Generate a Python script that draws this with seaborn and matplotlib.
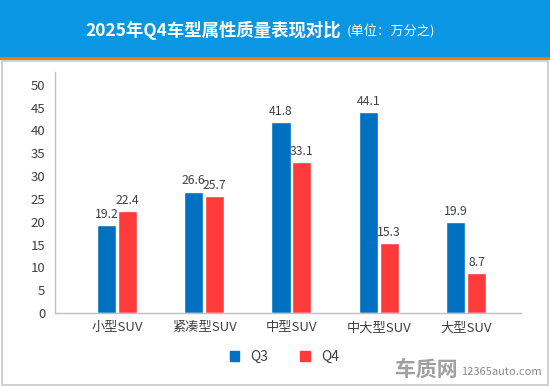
import pandas as pd
import seaborn as sns
import matplotlib.pyplot as plt
from matplotlib.patches import Rectangle

# データ
categories = ["小型SUV", "紧凑型SUV", "中型SUV", "中大型SUV", "大型SUV"]
q3_values = [19.2, 26.6, 41.8, 44.1, 19.9]
q4_values = [22.4, 25.7, 33.1, 15.3, 8.7]
series_names = ["Q3", "Q4"]
y_ticks = [0, 5, 10, 15, 20, 25, 30, 35, 40, 45, 50]

df = pd.DataFrame({
    "category": categories * 2,
    "value": q3_values + q4_values,
    "quarter": [series_names[0]] * len(categories) + [series_names[1]] * len(categories),
})

sns.set_style("white")
plt.rcParams["font.family"] = ["Noto Sans CJK SC", "DejaVu Sans"]

fig = plt.figure(figsize=(5.5, 3.86), dpi=100)

# タイトルバー
fig.patches.append(Rectangle((0, 1 - 57 / 386), 1, 57 / 386, transform=fig.transFigure,
                             facecolor="#0996e3", edgecolor="none", zorder=0))
fig.patches.append(Rectangle((0, 1 - 60 / 386), 1, 3 / 386, transform=fig.transFigure,
                             facecolor="#f07d00", edgecolor="none", zorder=0))
# 外枠
fig.patches.append(Rectangle((1.5 / 550, 1.5 / 386), 546 / 550, 1 - 62 / 386, transform=fig.transFigure,
                             facecolor="none", edgecolor="#c8c8c8", linewidth=1.2, zorder=0))

fig.text(341 / 550, 1 - 30 / 386, "2025年Q4车型属性质量表现对比", color="white", fontsize=12.5,
         fontweight="bold", ha="right", va="center")
fig.text(347 / 550, 1 - 31 / 386, "(单位：万分之)", color="white", fontsize=9.5,
         ha="left", va="center")

ax = fig.add_axes([55 / 550, 1 - 313 / 386, 466 / 550, 241 / 386])
sns.barplot(data=df, x="category", y="value", hue="quarter",
            palette=["#0070c0", "#ff3a3a"], width=0.48, gap=0.09,
            saturation=1, ax=ax, legend=False)

for c in ax.containers:
    ax.bar_label(c, fmt="%.1f", padding=3, fontsize=8.8, color="#404040")

ax.set_ylim(0, 52.8)
ax.set_xlim(-0.71, 4.63)
ax.set_yticks(y_ticks)
ax.set_xlabel("")
ax.set_ylabel("")
ax.tick_params(axis="both", length=0, labelsize=9.5, colors="#404040")
ax.tick_params(axis="y", pad=7)
ax.tick_params(axis="x", pad=6)
for s in ["top", "right"]:
    ax.spines[s].set_visible(False)
for s in ["left", "bottom"]:
    ax.spines[s].set_color("#bfbfbf")
    ax.spines[s].set_linewidth(1)

# 凡例
handles = [Rectangle((0, 0), 1, 1, color="#0070c0"), Rectangle((0, 0), 1, 1, color="#ff3a3a")]
fig.legend(handles, series_names, loc="center", bbox_to_anchor=(0.517, 1 - 357 / 386),
           ncol=2, frameon=False, fontsize=10, handlelength=0.7, handleheight=0.7,
           columnspacing=2.3, handletextpad=0.8, labelcolor="#404040")

# ウォーターマーク
fig.text(426 / 550, 1 - 369 / 386, "车质网", color="#a0a0a0", fontsize=15, fontweight="bold",
         ha="center", va="center")
fig.text(501 / 550, 1 - 372 / 386, "12365auto.com", color="#8a8a8a", fontsize=8,
         ha="center", va="center")

fig.savefig("out.png", dpi=100)
